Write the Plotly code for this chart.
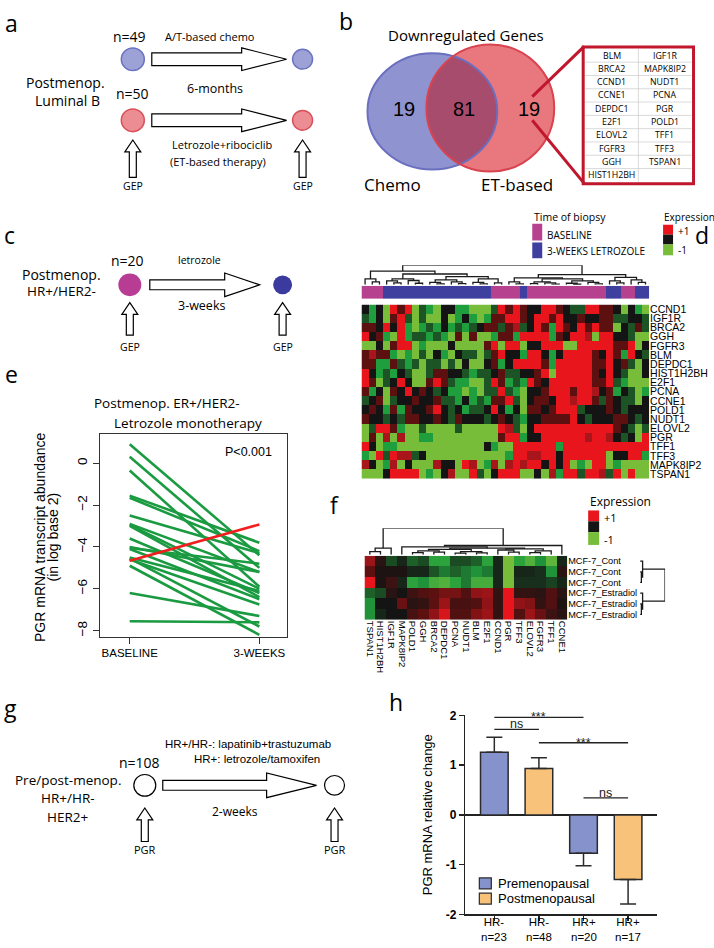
import numpy as np
import plotly.graph_objects as go

W, H = 714, 948
FD = "Open Sans, Noto Sans, DejaVu Sans, sans-serif"
FA = "Liberation Sans, Arial, sans-serif"

# ---------------- data ----------------
# panel e : PGR (log2) per patient, baseline -> 3 weeks letrozole
E_XLABELS = ["BASELINE", "3-WEEKS"]
E_BASELINE = [0.9, 0.3, -0.35, -1.55, -1.65, -2.5, -2.9, -2.95, -3.0, -3.6,
              -4.0, -4.05, -4.1, -4.5, -4.55, -4.6, -4.9, -6.2, -7.55]
E_WEEK3 = [-4.4, -5.0, -5.9, -3.8, -4.2, -4.3, -5.2, -6.0, -6.4, -6.2,
           -5.2, -4.8, -6.5, -6.1, -7.8, -6.75, -8.2, -7.3, -7.6]
E_RISER = [-4.66, -2.93]
E_YTICKS = [0, -2, -4, -6, -8]

# panel d : heatmap (19 genes x 40 biopsies), levels
D_GENES = ["CCND1", "IGF1R", "BRCA2", "GGH", "FGFR3", "BLM", "DEPDC1", "HIST1H2BH",
           "E2F1", "PCNA", "CCNE1", "POLD1", "NUDT1", "ELOVL2", "PGR", "TFF1", "TFF3",
           "MAPK8IP2", "TSPAN1"]
D_CELLS = [
    "kgkGRrRGdgGkkggGGGdRrRrkkRRrkddRRrrkGkgG",
    "dgkGrRdGdGGkGgkgGgrrRRrkRRrRkkrkkrrddkkd",
    "rrkRkRgGgdgkgdgdkrrdrmdkRrgRrkRrRrrGkdrd",
    "RkrgGRgddgdgGrGrGGgrrgRRRRgrkRRmGRRkkdGG",
    "GGkGrRRGgGGGkGGGGrRGRRGkkRRRGGRRRRRrrRGk",
    "rmrrgGgGdGkgGkddGdrRkkgRRkgkRRRRrkRrgRkd",
    "rrggrdgdGddGdGkGGkrgkRRRRrgRRRRRrrRkrdGk",
    "RkgdgkdGGdrrkkdgddkrddkkrRGRRRRRrkRkdGGk",
    "RrGdkRkGGrRrdggGGdRrgdgRrkRRRRRRrrRdgGGG",
    "rgkGrkRkrkdkggGgGddRdgGkkrRRRrRRmkrgkdGg",
    "dkrGdkkrkkrddgkgdgrrRdGkrrkRRmRRrdrkddGk",
    "krkgrgrkkrRkdkgddkRkgkGrrkrRRRdkkkrkdkkk",
    "rkkdkdrrkkrkdrkkkdkrkdgkkrrrrRkdkkkrrkdk",
    "GdRRrgGGdGGGGdGGGGGRmdGkRRRRRRRRRRRrkdGd",
    "GrGmGmGGggGGGGGGGGGrRRgkkRRRRRRmRRmkdkGR",
    "RkGggGGGGGGGGGGGGkgGGRRRRRRgRRRRRRRRRRRR",
    "gGRdRmmdkGGGGGGGGGGGgRRmmRRkRRRRRRGkkRRg",
    "mkGgmGkGGGmkkGRmGgmGmRmRRkRkRGgGRRGgGGGG",
    "GGGkRRRRGgGkmGGRdGkRRRGGkGmgRRdRRmdRGRGG",
]
D_LEVELS = {"G": -1.0, "g": -0.65, "d": -0.35, "k": 0.0, "r": 0.35, "m": 0.65, "R": 1.0}
D_BIOPSY = "BBB" + "LLLLLLLLLLLLLLL" + "BBBB" + "L" + "BBBBBBBBBBB" + "LL" + "BB" + "LL"
D_BIOPSY_NAMES = ["BASELINE", "3-WEEKS LETROZOLE"]
# dendrogram merges: (start, split, end, height)
D_MERGES = [
    (0, 20, 40, 1.0),
    (0, 3, 20, 0.7), (0, 1, 3, 0.3), (1, 2, 3, 0.15),
    (3, 9, 20, 0.55), (3, 6, 9, 0.3), (3, 4, 6, 0.2), (4, 5, 6, 0.1), (6, 7, 9, 0.22), (7, 8, 9, 0.08),
    (9, 15, 20, 0.42), (9, 12, 15, 0.25), (9, 10, 12, 0.12), (10, 11, 12, 0.05), (12, 13, 15, 0.15),
    (13, 14, 15, 0.06), (15, 18, 20, 0.3), (15, 16, 18, 0.12), (16, 17, 18, 0.05), (18, 19, 20, 0.1),
    (20, 34, 40, 0.52),
    (20, 23, 34, 0.35), (20, 21, 23, 0.15), (21, 22, 23, 0.05),
    (23, 28, 34, 0.3), (23, 25, 28, 0.15), (23, 24, 25, 0.06), (25, 26, 28, 0.1), (26, 27, 28, 0.04),
    (28, 31, 34, 0.2), (28, 29, 31, 0.08), (29, 30, 31, 0.03), (31, 32, 34, 0.12), (32, 33, 34, 0.05),
    (34, 37, 40, 0.38), (34, 35, 37, 0.2), (35, 36, 37, 0.1), (37, 38, 40, 0.25), (38, 39, 40, 0.12),
]

# panel f : MCF-7 heatmap
F_GENES = ["TSPAN1", "HIST1H2BH", "IGF1R", "MAPK8IP2", "POLD1", "GGH", "BRCA2", "DEPDC1",
           "PCNA", "NUDT1", "BLM", "E2F1", "CCND1", "PGR", "TFF3", "ELOVL2", "FGFR3", "TFF1", "CCNE1"]
F_SAMPLES = ["MCF-7_Cont", "MCF-7_Cont", "MCF-7_Cont",
             "MCF-7_Estradiol", "MCF-7_Estradiol", "MCF-7_Estradiol"]
F_VALUES = [
    [0.6, 0.1, -0.3, -0.1, -0.4, -0.3, -0.7, -0.7, -0.3, -0.3, -0.4, -0.7, -0.1, -1.0, -0.7, -0.85, -0.6, -0.9, -0.1],
    [0.35, 0.05, 0.05, 0.05, -0.1, -0.1, -0.35, -0.5, -0.4, -0.5, -0.6, -0.5, -0.1, -1.0, -0.1, -0.1, -0.15, -0.6, 0.1],
    [1.0, 0.05, 0.2, -0.1, -0.7, -0.6, -0.8, -0.85, -0.7, -0.5, -0.8, -0.8, -0.1, -1.0, -0.15, -0.15, -0.15, -0.25, -0.1],
    [-0.4, -0.3, 0.1, 0.0, 0.2, 0.3, 0.35, 0.45, 0.45, 0.3, 0.55, 0.6, 0.15, 1.0, 0.15, 0.15, 0.1, 0.3, 0.1],
    [-0.6, 0.0, 0.0, 0.4, 0.1, 0.15, 0.35, 0.6, 0.25, 0.25, 0.3, 0.55, 0.15, 1.0, 0.55, 0.5, 0.15, 0.3, 0.05],
    [-0.6, -0.1, 0.0, 0.0, 0.25, 0.35, 0.55, 0.9, 0.3, 0.3, 0.5, 0.6, 0.15, 1.0, 0.3, 0.6, 0.4, 0.2, 0.1],
]
F_COL_MERGES = [
    (0, 3, 19, 1.0), (0, 2, 3, 0.25), (0, 1, 2, 0.12),
    (3, 18, 19, 0.35), (3, 4, 18, 0.3), (4, 12, 18, 0.25),
    (4, 8, 12, 0.2), (4, 6, 8, 0.15), (4, 5, 6, 0.08), (6, 7, 8, 0.1), (8, 10, 12, 0.12),
    (8, 9, 10, 0.06), (10, 11, 12, 0.07),
    (12, 15, 18, 0.22), (12, 13, 15, 0.18), (13, 14, 15, 0.1), (15, 17, 18, 0.15), (15, 16, 17, 0.08),
]
F_ROW_MERGES = [(0, 3, 6, 1.0), (0, 1, 3, 0.1), (1, 2, 3, 0.05), (3, 4, 6, 0.1), (4, 5, 6, 0.05)]

# panel b : Venn of downregulated genes
VENN_COUNTS = [19, 81, 19]
VENN_SETS = ["Chemo", "ET-based"]
ET_ONLY = ["BLM", "BRCA2", "CCND1", "CCNE1", "DEPDC1", "E2F1", "ELOVL2", "FGFR3", "GGH",
           "HIST1H2BH", "IGF1R", "MAPK8IP2", "NUDT1", "PCNA", "PGR", "POLD1", "TFF1", "TFF3", "TSPAN1"]

# panel h : PGR mRNA relative change
H_GROUPS = ["HR-", "HR-", "HR+", "HR+"]
H_N = [23, 48, 20, 17]
H_STATUS = ["Premenopausal", "Postmenopausal", "Premenopausal", "Postmenopausal"]
H_MEAN = [1.26, 0.93, -0.77, -1.30]
H_ERR = [0.30, 0.22, 0.25, 0.49]
H_SIG = [(0, 2, 1.96, "***"), (0, 1, 1.72, "ns"), (1, 3, 1.45, "***"), (2, 3, 0.34, "ns")]

# ---------------- helpers ----------------
shapes, annotations = [], []


def X(x):
    return x / W


def Y(y):
    return 1 - y / H


def text(x, y, s, size, font=FD, color="black", xanchor="center", yanchor="middle", angle=0):
    annotations.append(dict(x=X(x), y=Y(y), xref="paper", yref="paper", text=s, showarrow=False,
                            font=dict(family=font, size=size, color=color),
                            xanchor=xanchor, yanchor=yanchor, textangle=angle))


def path(pts, fill="white", lw=1.2, color="black"):
    d = "M " + " L ".join(f"{X(a):.5f},{Y(b):.5f}" for a, b in pts) + " Z"
    shapes.append(dict(type="path", xref="paper", yref="paper", path=d, fillcolor=fill,
                       line=dict(color=color, width=lw)))


def circle(cx, cy, rx, ry=None, fill="white", color="black", lw=1.2):
    ry = rx if ry is None else ry
    shapes.append(dict(type="circle", xref="paper", yref="paper", x0=X(cx - rx), x1=X(cx + rx),
                       y0=Y(cy + ry), y1=Y(cy - ry), fillcolor=fill, line=dict(color=color, width=lw)))


def rect(x0, y0, x1, y1, fill, color=None, lw=0):
    shapes.append(dict(type="rect", xref="paper", yref="paper", x0=X(x0), x1=X(x1), y0=Y(y1), y1=Y(y0),
                       fillcolor=fill, line=dict(color=color or fill, width=lw)))


def line(x0, y0, x1, y1, color="black", lw=1.0):
    shapes.append(dict(type="line", xref="paper", yref="paper", x0=X(x0), x1=X(x1), y0=Y(y0), y1=Y(y1),
                       line=dict(color=color, width=lw)))


def rarrow(x0, x1, hx, yc, sh, hh):
    path([(x0, yc - sh), (hx, yc - sh), (hx, yc - hh), (x1, yc), (hx, yc + hh), (hx, yc + sh), (x0, yc + sh)])


def uarrow(xc, yt, yb, hh=12, hw=8, sw=3.5):
    path([(xc, yt), (xc + hw, yt + hh), (xc + sw, yt + hh), (xc + sw, yb), (xc - sw, yb),
          (xc - sw, yt + hh), (xc - hw, yt + hh)])


def dendro(merges, n):
    info = {(i, i + 1): (float(i), 0.0) for i in range(n)}
    md = {(s, e): (m, h) for s, m, e, h in merges}

    def get(s, e):
        if (s, e) not in info:
            m, h = md[(s, e)]
            xl, _ = get(s, m)
            xr, _ = get(m, e)
            info[(s, e)] = ((xl + xr) / 2, h)
        return info[(s, e)]

    pos, hts = [], []
    for s, m, e, h in merges:
        xl, hl = get(s, m)
        xr, hr = get(m, e)
        pos += [xl, xl, xr, xr, None]
        hts += [hl, h, h, hr, None]
    return pos, hts


def dom_x(a, b):
    return [a / W, b / W]


def dom_y(top, bot):
    return [1 - bot / H, 1 - top / H]


def hidden(domain, rng, anchor):
    return dict(domain=domain, range=rng, anchor=anchor, visible=False, showgrid=False,
                zeroline=False, fixedrange=True)


HEAT_SCALE = [[0.0, "#78bd3a"], [0.175, "#1f9e3e"], [0.325, "#1c5426"], [0.5, "#141414"],
              [0.675, "#5c1010"], [0.825, "#a8151a"], [1.0, "#e8161c"]]

fig = go.Figure()

# ---------------- panel labels ----------------
for lab, (lx, ly) in {"a": (12, 16), "b": (346, 14), "c": (10, 231), "d": (703, 231),
                      "e": (12, 372), "f": (335, 505), "g": (11, 711), "h": (397, 705)}.items():
    text(lx, ly, lab, 23)

# ---------------- panel a ----------------
text(130, 30, "n=49", 14)
text(133, 88, "n=50", 14)
text(210, 30, "A/T-based chemo", 11)
text(215, 83, "6-months", 12.5)
text(222, 140, "Letrozole+ribociclib", 11)
text(218, 157, "(ET-based therapy)", 11)
text(66, 77, "Postmenop.", 14)
text(68, 95, "Luminal B", 14)
rarrow(152, 287, 242, 53, 6.5, 11.5)
rarrow(152, 287, 242, 115, 6.5, 11.5)
circle(133, 53, 11.5, fill="#9ca2d6", color="#6a72c2", lw=1.5)
circle(303, 53, 10, fill="#9ca2d6", color="#6a72c2", lw=1.5)
circle(133, 115, 11.5, fill="#ec8d93", color="#d9505a", lw=1.5)
circle(303, 115, 10, fill="#ec8d93", color="#d9505a", lw=1.5)
uarrow(133, 135, 173, 12, 8, 3.5)
uarrow(303, 135, 173, 12, 8, 3.5)
text(133, 182, "GEP", 10.5)
text(303, 182, "GEP", 10.5)

# ---------------- panel b (Venn) ----------------
BL = (433, 106, 65, 59)
RD = (491, 102.5, 64, 64.5)
circle(BL[0], BL[1], BL[2], BL[3], fill="#8f93cf", color="#8f93cf", lw=0)
circle(RD[0], RD[1], RD[2], RD[3], fill="#e8787e", color="#e8787e", lw=0)
t = np.linspace(0, 2 * np.pi, 360, endpoint=False)
pts = []
for a, b in ((BL, RD), (RD, BL)):
    ex, ey = a[0] + a[2] * np.cos(t), a[1] + a[3] * np.sin(t)
    ins = ((ex - b[0]) / b[2]) ** 2 + ((ey - b[1]) / b[3]) ** 2 <= 1
    pts += list(zip(ex[ins], ey[ins]))
pts = np.array(pts)
cxm, cym = pts.mean(axis=0)
pts = pts[np.argsort(np.arctan2(pts[:, 1] - cym, pts[:, 0] - cxm))]
path([tuple(p) for p in pts], fill="#a84c6e", lw=0, color="#a84c6e")
circle(BL[0], BL[1], BL[2], BL[3], fill="rgba(0,0,0,0)", color="#6a6fbf", lw=2)
circle(RD[0], RD[1], RD[2], RD[3], fill="rgba(0,0,0,0)", color="#d9434f", lw=2)
text(467, 28, "Downregulated Genes", 15)
text(405, 104, str(VENN_COUNTS[0]), 20, font=FA)
text(465, 104, str(VENN_COUNTS[1]), 20, font=FA)
text(530, 104, str(VENN_COUNTS[2]), 20, font=FA)
text(393, 180, VENN_SETS[0], 17)
text(518, 180, VENN_SETS[1], 17)
BOXC = "#c0172c"
line(533, 91, 585, 40, BOXC, 3)
line(533, 115, 585, 179, BOXC, 3)
nrow = 10
ty0, ty1, tx0, tx1 = 42.5, 177.5, 586, 692.5
rh = (ty1 - ty0) / nrow
for i in range(1, nrow):
    line(tx0, ty0 + i * rh, tx1, ty0 + i * rh, "#d0d0d0", 0.8)
line((tx0 + tx1) / 2, ty0, (tx0 + tx1) / 2, ty1, "#d0d0d0", 0.8)
for k, g in enumerate(ET_ONLY):
    col, row = divmod(k, nrow)
    cx = tx0 + (tx1 - tx0) * (0.25 + 0.5 * col)
    text(cx, ty0 + rh * (row + 0.5), g, 8.8)
shapes.append(dict(type="rect", xref="paper", yref="paper", x0=X(584), x1=X(694.5), y0=Y(179.5), y1=Y(40.5),
                   fillcolor="rgba(0,0,0,0)", line=dict(color=BOXC, width=3)))

# ---------------- panel c ----------------
text(128, 257, "n=20", 14)
text(200, 257, "letrozole", 10.5)
text(202, 303, "3-weeks", 12.5)
text(62, 272, "Postmenop.", 14)
text(62, 288, "HR+/HER2-", 13.5)
rarrow(150, 260, 225, 282, 5, 12)
circle(130, 282, 11.5, fill="#b83c94", color="#b83c94", lw=0)
circle(283, 282, 9.5, fill="#3b3a9e", color="#3b3a9e", lw=0)
uarrow(130, 300, 333, 12, 8, 3.5)
uarrow(283, 300, 333, 12, 8, 3.5)
text(130, 345, "GEP", 10.5)
text(283, 345, "GEP", 10.5)

# ---------------- panel e ----------------
text(167, 402, "Postmenop. ER+/HER2-", 13.5)
text(188, 422, "Letrozole monotherapy", 13.5)
text(40, 538, "PGR mRNA transcript abundance", 14, font=FA, angle=-90)
text(53.5, 538, "(in log base 2)", 14, font=FA, angle=-90)
gx, gy = [], []
for b, w in zip(E_BASELINE, E_WEEK3):
    gx += [0, 1, None]
    gy += [b, w, None]
fig.add_trace(go.Scatter(x=gx, y=gy, mode="lines", line=dict(color="#1a9a41", width=2.6),
                         xaxis="x", yaxis="y", showlegend=False, hoverinfo="skip"))
fig.add_trace(go.Scatter(x=[0, 1], y=E_RISER, mode="lines", line=dict(color="#f21d1d", width=2.6),
                         xaxis="x", yaxis="y", showlegend=False, hoverinfo="skip"))
annotations.append(dict(x=0.92, y=0.55, xref="x", yref="y", text="P<0.001", showarrow=False,
                        font=dict(family=FA, size=12.5, color="black")))

# ---------------- panel d ----------------
d_z = [[D_LEVELS[c] for c in (row + "k" * 40)[:40]] for row in D_CELLS]
ncol = len(d_z[0])
fig.add_trace(go.Heatmap(z=d_z, x=list(range(ncol)), y=list(range(len(D_GENES))), colorscale=HEAT_SCALE,
                         zmin=-1, zmax=1, showscale=False, xaxis="x2", yaxis="y2", hoverinfo="skip"))
fig.add_trace(go.Heatmap(z=[[0 if c == "B" else 1 for c in D_BIOPSY]], x=list(range(len(D_BIOPSY))), y=[0],
                         colorscale=[[0, "#b5418f"], [0.5, "#b5418f"], [0.5, "#3e3f9e"], [1, "#3e3f9e"]],
                         zmin=0, zmax=1, showscale=False, xaxis="x3", yaxis="y3", hoverinfo="skip"))
dx, dy = dendro(D_MERGES, len(D_BIOPSY))
fig.add_trace(go.Scatter(x=dx, y=dy, mode="lines", line=dict(color="#1a1a1a", width=1.3),
                         xaxis="x4", yaxis="y4", showlegend=False, hoverinfo="skip"))
text(533, 213, "Time of biopsy", 10.5, xanchor="left")
rect(533, 220, 543, 237, "#b5418f")
rect(533, 239, 543, 255, "#3e3f9e")
text(546, 231, D_BIOPSY_NAMES[0], 10, xanchor="left")
text(546, 248, D_BIOPSY_NAMES[1], 10, xanchor="left")
text(663, 213, "Expression", 10, xanchor="left")
rect(664, 221, 674, 231, "#e8161c")
rect(664, 231, 674, 241, "#141414")
rect(664, 241, 674, 252, "#78bd3a")
text(677, 227, "+1", 10, xanchor="left")
text(677, 247, "-1", 10, xanchor="left")

# ---------------- panel f ----------------
fig.add_trace(go.Heatmap(z=F_VALUES, x=list(range(len(F_GENES))), y=list(range(len(F_SAMPLES))),
                         colorscale=HEAT_SCALE, zmin=-1, zmax=1, showscale=False,
                         xaxis="x5", yaxis="y5", hoverinfo="skip"))
fx, fy = dendro(F_COL_MERGES, len(F_GENES))
fig.add_trace(go.Scatter(x=fx, y=fy, mode="lines", line=dict(color="#1a1a1a", width=1.3),
                         xaxis="x6", yaxis="y6", showlegend=False, hoverinfo="skip"))
ry_, rx_ = dendro(F_ROW_MERGES, len(F_SAMPLES))
fig.add_trace(go.Scatter(x=rx_, y=ry_, mode="lines", line=dict(color="#1a1a1a", width=1.3),
                         xaxis="x7", yaxis="y7", showlegend=False, hoverinfo="skip"))
text(589, 502, "Expression", 12, xanchor="left")
rect(589, 511, 600, 522, "#e8161c")
rect(589, 522, 600, 533, "#141414")
rect(589, 533, 600, 546, "#78bd3a")
text(603, 518, "+1", 11, xanchor="left")
text(603, 540, "-1", 11, xanchor="left")

# ---------------- panel g ----------------
text(248, 748, "HR+/HR-: lapatinib+trastuzumab", 11.5, font=FA)
text(257, 763, "HR+: letrozole/tamoxifen", 11.5, font=FA)
text(140, 767, "n=108", 14)
text(68, 785, "Pre/post-menop.", 13.5)
text(68, 803, "HR+/HR-", 13.5)
text(68, 822, "HER2+", 13.5)
rarrow(163, 317, 267, 790, 5, 12.5)
circle(145, 790, 11, fill="white", color="black", lw=1.2)
circle(335, 790, 10, fill="white", color="black", lw=1.2)
text(235, 817, "2-weeks", 12)
uarrow(145, 813, 847, 12, 8, 3.5)
uarrow(335, 813, 847, 12, 8, 3.5)
text(145, 855, "PGR", 11)
text(335, 855, "PGR", 11)

# ---------------- panel h ----------------
STATUS_COL = {"Premenopausal": "#8592cc", "Postmenopausal": "#f9c27a"}
for st in ["Premenopausal", "Postmenopausal"]:
    idx = [i for i, s in enumerate(H_STATUS) if s == st]
    fig.add_trace(go.Bar(
        x=idx, y=[H_MEAN[i] for i in idx], width=0.62,
        marker=dict(color=STATUS_COL[st], line=dict(color="#2b2b2b", width=1.5)),
        error_y=dict(type="data", symmetric=False,
                     array=[H_ERR[i] if H_MEAN[i] > 0 else 0 for i in idx],
                     arrayminus=[H_ERR[i] if H_MEAN[i] < 0 else 0 for i in idx],
                     color="#2b2b2b", thickness=1.5, width=8),
        xaxis="x8", yaxis="y8", showlegend=False, name=st, hoverinfo="skip"))
for a, b, lev, lab in H_SIG:
    shapes.append(dict(type="line", xref="x8", yref="y8", x0=a, x1=b, y0=lev, y1=lev,
                       line=dict(color="#222", width=1.3)))
    annotations.append(dict(x=(a + b) / 2, y=lev + (0.0 if lab == "***" else 0.1), xref="x8", yref="y8",
                            text=lab, showarrow=False, yanchor="middle",
                            font=dict(family=FA, size=12.5, color="#222")))
for i, (g, n) in enumerate(zip(H_GROUPS, H_N)):
    annotations.append(dict(x=i, y=Y(936.5), xref="x8", yref="paper", text=f"{g}<br>n={n}", showarrow=False,
                            font=dict(family=FA, size=11.5, color="black"), yanchor="middle"))
text(428, 820, "PGR mRNA relative change", 13, font=FA, angle=-90)
for k, st in enumerate(["Premenopausal", "Postmenopausal"]):
    y0 = 884 + 15.5 * k
    shapes.append(dict(type="rect", xref="paper", yref="paper", x0=X(480), x1=X(492), y0=Y(y0 + 11), y1=Y(y0),
                       fillcolor=STATUS_COL[st], line=dict(color="#2b2b2b", width=1.2)))
    text(497, y0 + 5.5, st, 13, font=FA, xanchor="left")

# ---------------- layout ----------------
axis_common = dict(showgrid=False, zeroline=False, fixedrange=True)
layout = dict(
    width=W, height=H, margin=dict(l=0, r=0, t=0, b=0),
    paper_bgcolor="white", plot_bgcolor="rgba(0,0,0,0)",
    showlegend=False, barmode="overlay",
    xaxis=dict(domain=dom_x(100, 287), range=[-0.23, 1.21], anchor="y", tickvals=[0, 1],
               ticktext=E_XLABELS, ticks="outside", ticklen=6, tickcolor="#333", showline=True,
               mirror=True, linecolor="#333", linewidth=1,
               tickfont=dict(family=FA, size=11.5, color="black"), **axis_common),
    yaxis=dict(domain=dom_y(433, 639), range=[-8.28, 1.41], anchor="x", tickvals=E_YTICKS,
               ticktext=[str(v).replace("-", "\u2212") for v in E_YTICKS], tickangle=-90,
               ticks="outside", ticklen=6, tickcolor="#333", showline=True, mirror=True,
               linecolor="#333", linewidth=1,
               tickfont=dict(family=FA, size=13.5, color="black"), **axis_common),
    xaxis2=hidden(dom_x(362, 650), [-0.5, ncol - 0.5], "y2"),
    yaxis2=dict(domain=dom_y(302, 479), range=[len(D_GENES) - 0.5, -0.5], anchor="x2", side="right",
                tickvals=list(range(len(D_GENES))), ticktext=D_GENES, ticks="", showline=False,
                tickfont=dict(family=FA, size=10.5, color="black"), **axis_common),
    xaxis3=hidden(dom_x(362, 650), [-0.5, ncol - 0.5], "y3"),
    yaxis3=hidden(dom_y(283, 296), [-0.5, 0.5], "x3"),
    xaxis4=hidden(dom_x(362, 650), [-0.5, ncol - 0.5], "y4"),
    yaxis4=hidden(dom_y(262, 282), [0, 1.0], "x4"),
    xaxis5=dict(domain=dom_x(365, 568), range=[-0.5, len(F_GENES) - 0.5], anchor="y5",
                tickvals=list(range(len(F_GENES))), ticktext=F_GENES, tickangle=90, ticks="",
                tickfont=dict(family=FA, size=9.5, color="black"), **axis_common),
    yaxis5=dict(domain=dom_y(557, 622), range=[len(F_SAMPLES) - 0.5, -0.5], anchor="x5", side="right",
                tickvals=list(range(len(F_SAMPLES))), ticktext=F_SAMPLES, ticks="",
                tickfont=dict(family=FA, size=9.2, color="black"), **axis_common),
    xaxis6=hidden(dom_x(365, 568), [-0.5, len(F_GENES) - 0.5], "y6"),
    yaxis6=hidden(dom_y(529, 556), [0, 1.0], "x6"),
    xaxis7=hidden(dom_x(641, 666), [0, 1.0], "y7"),
    yaxis7=hidden(dom_y(557, 622), [len(F_SAMPLES) - 0.5, -0.5], "x7"),
    xaxis8=dict(domain=dom_x(466, 658), range=[-0.65, 3.65], anchor="y8", tickvals=list(range(4)),
                ticktext=[""] * 4, ticks="outside", ticklen=5, tickwidth=1.5, tickcolor="#222",
                showline=True, linecolor="#222", linewidth=1.5,
                showgrid=False, zeroline=False, fixedrange=True),
    yaxis8=dict(domain=dom_y(719, 921), range=[-2, 2], anchor="x8", tickvals=[2, 1, 0, -1, -2],
                ticktext=["<b>2</b>", "<b>1</b>", "<b>0</b>", "<b>-1</b>", "<b>-2</b>"],
                ticks="outside", ticklen=5, tickwidth=1.5, tickcolor="#222", showline=True,
                linecolor="#222", linewidth=1.5, zeroline=True, zerolinecolor="#222", zerolinewidth=1.5,
                tickfont=dict(family=FA, size=12, color="black"), showgrid=False, fixedrange=True),
    shapes=shapes, annotations=annotations,
)
fig.update_layout(**layout)
fig.write_html("out.html", config={"displayModeBar": False, "staticPlot": True},
               post_script="document.body.style.margin='0';document.body.style.overflow='hidden';")
